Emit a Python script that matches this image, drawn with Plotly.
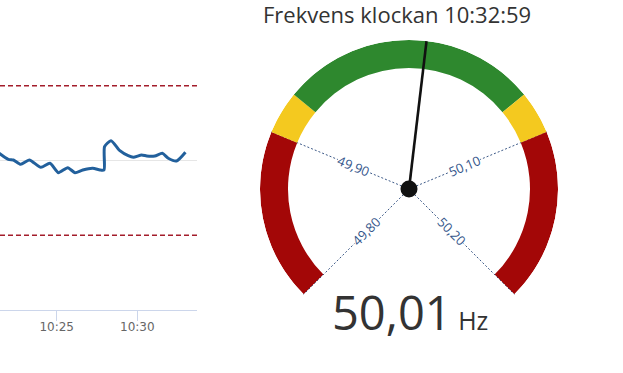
import math
import plotly.graph_objects as go

W, H = 623, 373
DAY = "2024-06-01 "

# ---------------- line chart data ----------------
times = ["10:21:10", "10:22:00", "10:22:19", "10:22:46", "10:23:18", "10:24:01",
         "10:24:35", "10:25:06", "10:25:41", "10:26:08", "10:26:37", "10:27:14",
         "10:27:41", "10:27:56", "10:27:58", "10:28:22", "10:28:55", "10:29:26",
         "10:29:45", "10:30:16", "10:30:35", "10:31:05", "10:31:33", "10:31:55",
         "10:32:26", "10:32:59"]
freq = [50.014, 50.0016, 50.0007, 49.9949, 50.0007, 49.9909,
        49.9963, 49.9837, 49.9904, 49.9837, 49.9873, 49.9896,
        49.9873, 49.9873, 50.0185, 50.0265, 50.0131, 50.0064,
        50.0043, 50.0074, 50.0060, 50.0060, 50.0096, 50.0030,
        49.9993, 50.0110]
limit_lines = [49.90, 50.10]
y_grid = [49.80, 50.00, 50.20]
x_ticks = ["10:20", "10:25", "10:30"]
x_range = ["10:21:29", "10:33:42"]

# ---------------- gauge data ----------------
gauge_min, gauge_max = 49.80, 50.20
band_edges = [49.80, 49.90, 49.925, 50.075, 50.10, 50.20]
band_colors = ["#a30707", "#f4c91f", "#2e882e", "#f4c91f", "#a30707"]
gauge_ticks = [49.80, 49.90, 50.10, 50.20]
gauge_tick_text = ["49,80", "49,90", "50,10", "50,20"]
current_value = 50.01
current_time = "10:32:59"
unit = "Hz"

# gauge scale: value -> degrees from top (clockwise), 270 deg sweep
SWEEP = 270.0
def deg(v):
    return (v - (gauge_min + gauge_max) / 2) / (gauge_max - gauge_min) * SWEEP

# gauge geometry (pixels)
CX, CY, R = 409.0, 189.0, 149.0
INNER = 121.0 / R

fig = go.Figure()

# line chart
fig.add_trace(go.Scatter(
    x=[DAY + t for t in times], y=freq, mode="lines",
    line=dict(color="#22609c", width=3, shape="spline", smoothing=0.6),
    xaxis="x", yaxis="y", showlegend=False, hoverinfo="skip"))

for lv in limit_lines:
    fig.add_shape(type="line", xref="x domain", yref="y", x0=0, x1=1, y0=lv, y1=lv,
                  line=dict(color="#a31d2b", width=1.3, dash="5px,3px"), layer="above")

# gauge bands
centers = [deg((a + b) / 2) for a, b in zip(band_edges[:-1], band_edges[1:])]
widths = [deg(b) - deg(a) for a, b in zip(band_edges[:-1], band_edges[1:])]
fig.add_trace(go.Barpolar(
    r=[1 - INNER] * len(centers), base=[INNER] * len(centers),
    theta=centers, width=widths,
    marker=dict(color=band_colors, line=dict(width=0)),
    showlegend=False, hoverinfo="skip", subplot="polar"))

# needle
na = deg(current_value)
fig.add_trace(go.Scatterpolar(
    r=[0, 1.0], theta=[na, na], mode="lines",
    line=dict(color="#111111", width=2.6), showlegend=False, hoverinfo="skip",
    subplot="polar"))
fig.add_trace(go.Scatterpolar(
    r=[0], theta=[0], mode="markers",
    marker=dict(color="#111111", size=17), showlegend=False, hoverinfo="skip",
    subplot="polar"))

# gauge tick labels along the grid rays
LR = 60.0
for v, txt in zip(gauge_ticks, gauge_tick_text):
    a = deg(v)
    px = CX + LR * math.sin(math.radians(a))
    py = CY - LR * math.cos(math.radians(a))
    ang = a + 90 if a < 0 else a - 90
    fig.add_annotation(x=px / W, y=1 - py / H, xref="paper", yref="paper",
                       xanchor="center", yanchor="middle",
                       text=txt, showarrow=False, textangle=ang,
                       font=dict(family="Open Sans", size=13, color="#34568b"),
                       bgcolor="white", borderpad=0)

# title
fig.add_annotation(x=396.5 / W, y=1 - 14 / H, xref="paper", yref="paper",
                   xanchor="center", yanchor="middle",
                   text=f"Frekvens klockan {current_time}", showarrow=False,
                   font=dict(family="Open Sans", size=22, color="#333333"))

# value
val_txt = f"{current_value:.2f}".replace(".", ",")
fig.add_annotation(x=410 / W, y=1 - 312 / H, xref="paper", yref="paper",
                   xanchor="center", yanchor="middle",
                   text=f"{val_txt}<span style='font-size:25px'> {unit}</span>",
                   showarrow=False,
                   font=dict(family="Open Sans", size=47, color="#333333"))

fig.update_layout(
    width=W, height=H, margin=dict(l=0, r=0, t=0, b=0),
    paper_bgcolor="white", plot_bgcolor="white",
    xaxis=dict(domain=[0, 197 / W], type="date",
               range=[DAY + x_range[0], DAY + x_range[1]],
               tickmode="array", tickvals=[DAY + t for t in x_ticks],
               ticktext=x_ticks, showgrid=False, zeroline=False,
               showline=True, linecolor="#ccd6eb", linewidth=1,
               ticks="outside", ticklen=10, tickcolor="#ccd6eb",
               ticklabelstandoff=-4,
               tickfont=dict(family="DejaVu Sans", size=12, color="#666666")),
    yaxis=dict(domain=[1 - 310 / H, 1 - 11 / H], range=[gauge_min, gauge_max],
               tickmode="array", tickvals=y_grid, showticklabels=False,
               showgrid=True, gridcolor="#e6e6e6", gridwidth=1, zeroline=False),
    polar=dict(
        domain=dict(x=[(CX - R) / W, (CX + R) / W],
                    y=[1 - (CY + R * math.sin(math.radians(45))) / H, 1 - (CY - R) / H]),
        sector=[-45, 225],
        bgcolor="rgba(0,0,0,0)",
        radialaxis=dict(visible=False, range=[0, 1]),
        angularaxis=dict(direction="clockwise", rotation=90, thetaunit="degrees",
                         tickmode="array", tickvals=[deg(v) for v in gauge_ticks],
                         showticklabels=False, ticks="", showline=False,
                         showgrid=True, gridcolor="#3d5a88", gridwidth=1,
                         griddash="2px,2px"),
    ),
)

fig.write_html("out.html")
